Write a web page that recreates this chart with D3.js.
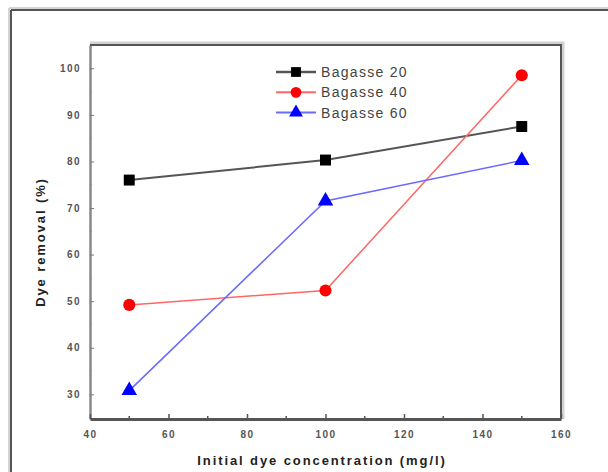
<!DOCTYPE html>
<html>
<head>
<meta charset="utf-8">
<script src="https://cdn.jsdelivr.net/npm/d3@7"></script>
<style>
  body { margin: 0; background: #fff; }
  svg { display: block; font-family: Arial, "Liberation Sans", sans-serif; }
</style>
</head>
<body>
<div class="grafico"></div>
<script>
// data
const concentrations = [50, 100, 150];
const bagasse20 = [76.0, 80.3, 87.5];
const bagasse40 = [49.2, 52.3, 98.5];
const bagasse60 = [30.8, 71.5, 80.2];
const seriesNames = ["Bagasse 20", "Bagasse 40", "Bagasse 60"];
const xTicks = [40, 60, 80, 100, 120, 140, 160];
const yTicks = [30, 40, 50, 60, 70, 80, 90, 100];

const width = 608, height = 472;
const pLeft = 90, pRight = 561, pTop = 45, pBottom = 419;

const svg = d3.select(".grafico")
    .append("svg")
    .attr("width", width)
    .attr("height", height);

// outer figure frame (only top and left are visible)
svg.append("path")
    .attr("d", "M9,8 H608 M9,8 V472")
    .attr("fill", "none").attr("stroke", "#d4d4d4").attr("stroke-width", 2);
svg.append("path")
    .attr("d", "M11,10 H608 M11,10 V472")
    .attr("fill", "none").attr("stroke", "#555").attr("stroke-width", 2);

const x = d3.scaleLinear().domain([40, 160]).range([pLeft, pRight]);
const y = d3.scaleLinear().domain([24.7, 105]).range([pBottom, pTop]);

// frame shadow
svg.append("path")
    .attr("d", `M${pLeft},${pTop - 2} H${pRight + 2} V${pBottom}`)
    .attr("fill", "none").attr("stroke", "#d2d2d2").attr("stroke-width", 3);

// minor ticks
const g = svg.append("g");
g.selectAll(".xminor").data(d3.range(50, 160, 20)).join("line")
    .attr("x1", d => x(d)).attr("x2", d => x(d))
    .attr("y1", pBottom).attr("y2", pBottom - 3)
    .attr("stroke", "#555").attr("stroke-width", 1.5);
g.selectAll(".yminor").data(d3.range(35, 105, 10)).join("line")
    .attr("x1", pLeft).attr("x2", pLeft + 2)
    .attr("y1", d => y(d)).attr("y2", d => y(d))
    .attr("stroke", "#999").attr("stroke-width", 1);

// axes with inside ticks
const xAxis = svg.append("g")
    .attr("transform", `translate(0,${pBottom})`)
    .call(d3.axisBottom(x).tickValues(xTicks).tickSizeInner(-5).tickSizeOuter(0).tickPadding(12));
const yAxis = svg.append("g")
    .attr("transform", `translate(${pLeft},0)`)
    .call(d3.axisLeft(y).tickValues(yTicks).tickSizeInner(-4).tickSizeOuter(0).tickPadding(9));

xAxis.select(".domain").attr("stroke", "#555").attr("stroke-width", 3);
yAxis.select(".domain").attr("stroke", "#888").attr("stroke-width", 2.5);
xAxis.selectAll(".tick line").attr("stroke", "#555").attr("stroke-width", 1.5);
yAxis.selectAll(".tick line").attr("stroke", "#777").attr("stroke-width", 1);
svg.selectAll(".tick text")
    .attr("font-size", 10).attr("fill", "#555").attr("font-weight", "bold")
    .attr("letter-spacing", 1.4);

// right and top frame lines
svg.append("path")
    .attr("d", `M${pLeft},${pTop} H${pRight} V${pBottom}`)
    .attr("fill", "none").attr("stroke", "#555").attr("stroke-width", 2);
xAxis.raise();

// axis titles
svg.append("text")
    .attr("x", 322).attr("y", 465)
    .attr("text-anchor", "middle")
    .attr("font-size", 13).attr("font-weight", "bold")
    .attr("letter-spacing", 1.9).attr("fill", "#222")
    .text("Initial dye concentration (mg/l)");
svg.append("text")
    .attr("transform", "translate(45,242) rotate(-90)")
    .attr("text-anchor", "middle")
    .attr("font-size", 13).attr("font-weight", "bold")
    .attr("letter-spacing", 1.9).attr("fill", "#222")
    .text("Dye removal (%)");

const series = [
    { name: seriesNames[0], values: bagasse20, line: "#555", fill: "#000", shape: d3.symbolSquare, size: 120, lw: 2 },
    { name: seriesNames[1], values: bagasse40, line: "#ff6666", fill: "#ff0000", shape: d3.symbolCircle, size: 115, lw: 1.5 },
    { name: seriesNames[2], values: bagasse60, line: "#6a6aff", fill: "#0000ff", shape: d3.symbolTriangle, size: 105, lw: 1.5 }
];

const line = d3.line()
    .x((d, i) => x(concentrations[i]))
    .y(d => y(d));

series.forEach(s => {
    svg.append("path")
        .attr("d", line(s.values))
        .attr("fill", "none")
        .attr("stroke", s.line)
        .attr("stroke-width", s.lw);
});
series.forEach(s => {
    svg.append("g").selectAll("path").data(s.values).join("path")
        .attr("transform", (d, i) => `translate(${x(concentrations[i])},${y(d)})`)
        .attr("d", d3.symbol().type(s.shape).size(s.size))
        .attr("fill", s.fill);
});

// legend
const legend = svg.append("g").attr("transform", "translate(276,72)");
series.forEach((s, i) => {
    const row = legend.append("g").attr("transform", `translate(0,${i * 20.3})`);
    row.append("line")
        .attr("x1", 0).attr("x2", 40)
        .attr("stroke", s.line).attr("stroke-width", s.lw + 0.5);
    row.append("path")
        .attr("transform", "translate(20,0)")
        .attr("d", d3.symbol().type(s.shape).size(s.size * 0.8))
        .attr("fill", s.fill);
    row.append("text")
        .attr("x", 45).attr("y", 5)
        .attr("font-size", 14).attr("fill", "#444")
        .attr("letter-spacing", 1.3)
        .text(s.name);
});
</script>
</body>
</html>
